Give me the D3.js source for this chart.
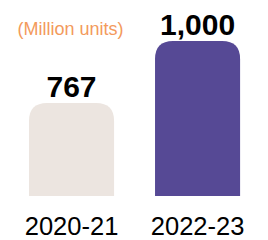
<!DOCTYPE html>
<html>
<head>
<meta charset="utf-8">
<script src="https://cdn.jsdelivr.net/npm/d3@7"></script>
<style>
  html, body { margin: 0; padding: 0; background: #fff; }
  svg { display: block; }
</style>
</head>
<body>
<svg id="chart" width="268" height="240"></svg>
<script>
const categories = ["2020-21", "2022-23"];
const values = [767, 1000];
const valueLabels = ["767", "1,000"];
const barColors = ["#ece5e0", "#564995"];
const unitLabel = "(Million units)";

const W = 268, H = 240;
const svg = d3.select("#chart");

const x = d3.scaleBand()
  .domain(categories)
  .range([3.8, 265.3])
  .paddingInner(0.325)
  .paddingOuter(0.2);

const baseline = 196;
const y = d3.scaleLinear()
  .domain([417, 1000])
  .range([baseline, 41]);

const r = 18;
function barPath(d, i) {
  const x0 = x(categories[i]);
  const w = x.bandwidth();
  const top = y(d);
  const rr = Math.min(r, w / 2, baseline - top);
  return `M${x0},${baseline}` +
    `V${top + rr}` +
    `Q${x0},${top} ${x0 + rr},${top}` +
    `H${x0 + w - rr}` +
    `Q${x0 + w},${top} ${x0 + w},${top + rr}` +
    `V${baseline}Z`;
}

svg.append("g").selectAll("path")
  .data(values)
  .join("path")
  .attr("d", (d, i) => barPath(d, i))
  .attr("fill", (d, i) => barColors[i]);

svg.append("g").selectAll("text")
  .data(values)
  .join("text")
  .attr("x", (d, i) => x(categories[i]) + x.bandwidth() / 2)
  .attr("y", d => y(d) - 6)
  .attr("text-anchor", "middle")
  .attr("font-family", "Liberation Sans, Arial, sans-serif")
  .attr("font-weight", "bold")
  .attr("font-size", 30)
  .attr("fill", "#000")
  .text((d, i) => valueLabels[i]);

const xAxis = d3.axisBottom(x).tickSize(0).tickPadding(0);
const gx = svg.append("g")
  .attr("transform", `translate(0,${baseline})`)
  .call(xAxis);
gx.select(".domain").remove();
gx.selectAll("text")
  .attr("dy", null)
  .attr("y", 39)
  .attr("font-family", "Liberation Sans, Arial, sans-serif")
  .attr("font-size", 25.5)
  .attr("fill", "#000");

svg.append("text")
  .attr("x", 70.5)
  .attr("y", 35)
  .attr("text-anchor", "middle")
  .attr("font-family", "Liberation Sans, Arial, sans-serif")
  .attr("font-size", 18)
  .attr("fill", "#f39a5c")
  .text(unitLabel);
</script>
</body>
</html>
